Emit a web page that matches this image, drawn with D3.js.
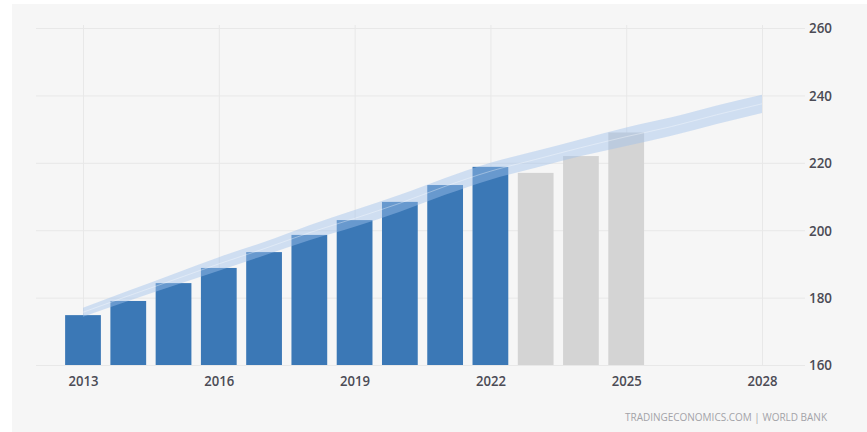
<!DOCTYPE html>
<html>
<head>
<meta charset="utf-8">
<script src="https://cdn.jsdelivr.net/npm/d3@7"></script>
<style>
  html, body { margin: 0; padding: 0; background: #ffffff; }
  svg { display: block; }
</style>
</head>
<body>
<svg id="chart" width="867" height="432"></svg>
<script>
// Actual values (blue) and forecast values (grey)
const actualYears = [2013, 2014, 2015, 2016, 2017, 2018, 2019, 2020, 2021, 2022];
const actualValues = [174.8, 179.0, 184.3, 188.8, 193.5, 198.6, 203.0, 208.4, 213.4, 218.8];
const forecastYears = [2023, 2024, 2025];
const forecastValues = [217.0, 222.0, 229.0];

// Trend band (upper / lower bounds per year)
const bandYears = [2013, 2014, 2015, 2016, 2017, 2018, 2019, 2020, 2021, 2022, 2023, 2024, 2025, 2026, 2027, 2028];
const bandUpper = [177.0, 182.0, 187.0, 192.0, 196.5, 201.5, 206.0, 210.5, 215.5, 220.0, 223.5, 227.0, 230.5, 233.5, 237.0, 240.2];
const bandLower = [174.3, 179.0, 183.5, 188.0, 192.5, 197.0, 201.0, 205.5, 210.5, 215.0, 218.5, 222.0, 225.0, 228.0, 231.5, 234.8];

// Axis ticks
const xTicks = [2013, 2016, 2019, 2022, 2025, 2028];
const yTicks = [160, 180, 200, 220, 240, 260];
const sourceText = "TRADINGECONOMICS.COM | WORLD BANK";

const svg = d3.select("#chart");

// Panel background
svg.append("rect")
  .attr("x", 12).attr("y", 4)
  .attr("width", 855).attr("height", 428)
  .attr("fill", "#f6f6f6");

const x = d3.scaleLinear().domain([2013, 2028]).range([83, 762]);
const y = d3.scaleLinear().domain([160, 260]).range([365, 28]);
const barW = (x(1) - x(0)) * 0.79;

// Horizontal grid + right-hand axis labels
const yAxis = d3.axisRight(y)
  .tickValues(yTicks)
  .tickSize(-(805 - 36))
  .tickPadding(4)
  .tickFormat(d3.format("d"));

const gy = svg.append("g")
  .attr("transform", "translate(805,0)")
  .call(yAxis);
gy.select(".domain").remove();
gy.selectAll(".tick line").attr("stroke", "#e8e8e8").attr("stroke-width", 1);
gy.selectAll(".tick text")
  .attr("fill", "#4b4b55")
  .attr("font-family", "'Open Sans', 'Liberation Sans', sans-serif")
  .attr("font-size", 15)
  .attr("font-weight", 600)
  .attr("textLength", 23)
  .attr("lengthAdjust", "spacingAndGlyphs");

// Vertical grid + bottom axis labels
const xAxis = d3.axisBottom(x)
  .tickValues(xTicks)
  .tickSize(-(365 - 25))
  .tickPadding(10)
  .tickFormat(d3.format("d"));

const gx = svg.append("g")
  .attr("transform", "translate(0,365)")
  .call(xAxis);
gx.select(".domain").remove();
gx.selectAll(".tick line").attr("stroke", "#e8e8e8").attr("stroke-width", 1);
gx.selectAll(".tick text")
  .attr("fill", "#4b4b55")
  .attr("font-family", "'Open Sans', 'Liberation Sans', sans-serif")
  .attr("font-size", 15)
  .attr("font-weight", 600)
  .attr("textLength", 30)
  .attr("lengthAdjust", "spacingAndGlyphs");

// Actual bars
svg.append("g")
  .selectAll("rect")
  .data(actualYears.map((yr, i) => ({ yr, v: actualValues[i] })))
  .join("rect")
  .attr("x", d => x(d.yr) - barW / 2)
  .attr("y", d => y(d.v))
  .attr("width", barW)
  .attr("height", d => y(160) - y(d.v))
  .attr("fill", "#3b78b6");

// Forecast bars
svg.append("g")
  .selectAll("rect")
  .data(forecastYears.map((yr, i) => ({ yr, v: forecastValues[i] })))
  .join("rect")
  .attr("x", d => x(d.yr) - barW / 2)
  .attr("y", d => y(d.v))
  .attr("width", barW)
  .attr("height", d => y(160) - y(d.v))
  .attr("fill", "#d4d4d4");

// Trend band drawn over the bars
const bandData = bandYears.map((yr, i) => ({ yr, hi: bandUpper[i], lo: bandLower[i] }));
const area = d3.area()
  .x(d => x(d.yr))
  .y0(d => y(d.lo))
  .y1(d => y(d.hi))
  .curve(d3.curveMonotoneX);

svg.append("path")
  .datum(bandData)
  .attr("d", area)
  .attr("fill", "#9fc2ec")
  .attr("fill-opacity", 0.45);

const mid = d3.line()
  .x(d => x(d.yr))
  .y(d => y((d.hi + d.lo) / 2))
  .curve(d3.curveMonotoneX);

svg.append("path")
  .datum(bandData)
  .attr("d", mid)
  .attr("fill", "none")
  .attr("stroke", "#ffffff")
  .attr("stroke-opacity", 0.35)
  .attr("stroke-width", 1);

// Source line
svg.append("text")
  .attr("x", 827)
  .attr("y", 421)
  .attr("text-anchor", "end")
  .attr("fill", "#a3a3a8")
  .attr("font-family", "'Open Sans', 'Liberation Sans', sans-serif")
  .attr("font-size", 10)
  .attr("textLength", 202)
  .attr("lengthAdjust", "spacingAndGlyphs")
  .text(sourceText);
</script>
</body>
</html>
